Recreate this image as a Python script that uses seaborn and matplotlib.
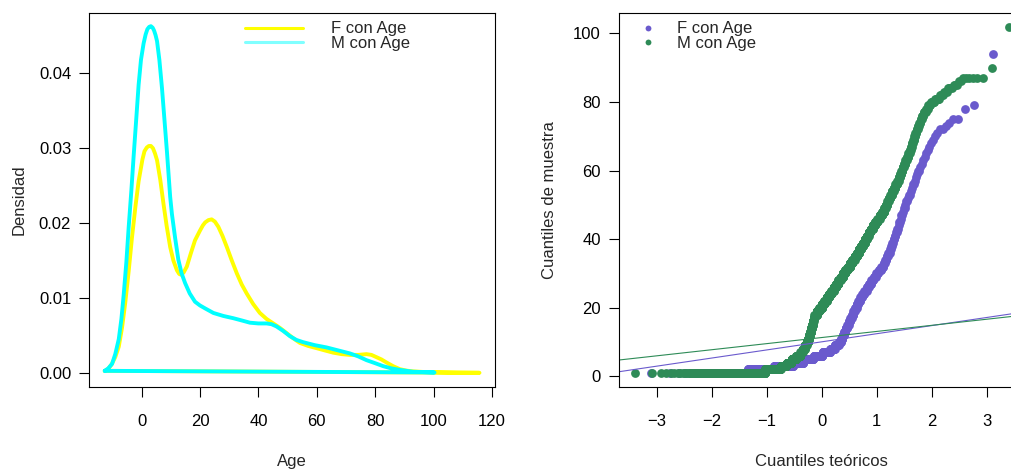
import numpy as np
import pandas as pd
import matplotlib
matplotlib.use("Agg")
import matplotlib.pyplot as plt
from matplotlib.lines import Line2D
import seaborn as sns
from statistics import NormalDist

# ---- Density of Age by group (x: age, y: density) ----
f_kde_age = [-12.6, -11.5, -10.3, -9.0, -7.8, -6.7, -5.6, -4.4, -3.3, -2.1, -1.0, 0.3,
             1.0, 1.8, 2.5, 3.2, 3.9, 4.6, 5.3, 6.4, 7.5, 8.6, 9.8, 10.9, 12.1, 12.9,
             13.6, 14.4, 15.5, 16.9, 18.3, 20.0, 21.0, 21.8, 22.9, 24.0, 25.1, 26.3,
             27.7, 29.2, 30.9, 32.6, 34.3, 36.0, 38.2, 40.5, 42.8, 45.1, 47.4, 49.7,
             52.0, 54.2, 57.0, 59.9, 62.7, 65.6, 68.5, 71.3, 74.2, 77.0, 78.7, 80.4,
             82.1, 83.8, 86.1, 88.4, 90.7, 93.0, 96.5, 100.0, 108.0, 115.7]
f_kde_dens = [0.00027, 0.0005, 0.0011, 0.0021, 0.0035, 0.0060, 0.0093, 0.0136, 0.0180,
              0.0222, 0.0256, 0.0285, 0.0296, 0.0301, 0.0303, 0.0303, 0.0300, 0.0293,
              0.0284, 0.0258, 0.0226, 0.0196, 0.0168, 0.0150, 0.0137, 0.0132, 0.0131,
              0.0134, 0.0142, 0.0160, 0.0177, 0.0190, 0.0197, 0.0201, 0.0204, 0.0205,
              0.0202, 0.0195, 0.0183, 0.0168, 0.0150, 0.0133, 0.0118, 0.0106, 0.0092,
              0.0080, 0.0072, 0.0066, 0.0060, 0.0053, 0.0046, 0.0040, 0.0036, 0.0033,
              0.0030, 0.0027, 0.0025, 0.0024, 0.0024, 0.0025, 0.0024, 0.0021, 0.0018,
              0.0014, 0.0009, 0.0005, 0.0003, 0.0002, 0.00012, 0.00008, 0.00003,
              0.00001]

m_kde_age = [-12.6, -11.4, -10.1, -9.0, -7.8, -6.9, -6.1, -5.2, -4.4, -3.5, -2.7, -1.8,
             -1.0, -0.2, 0.7, 1.4, 2.0, 2.6, 3.2, 3.8, 4.3, 4.8, 5.3, 6.1, 7.0, 7.8,
             8.7, 9.8, 10.4, 11.5, 12.6, 13.7, 14.9, 16.5, 18.3, 20.0, 21.8, 24.6,
             28.0, 31.4, 34.3, 37.1, 40.0, 42.8, 44.5, 46.2, 48.5, 50.8, 53.0, 55.3,
             59.3, 63.3, 67.3, 71.3, 74.2, 77.0, 79.9, 82.7, 85.5, 88.4, 93.0, 100.3]
m_kde_dens = [0.00027, 0.0006, 0.0012, 0.0025, 0.0045, 0.0072, 0.0105, 0.0148, 0.0195,
              0.0243, 0.0290, 0.0340, 0.0385, 0.0418, 0.0440, 0.0452, 0.0459, 0.0462,
              0.0463, 0.0461, 0.0457, 0.0451, 0.0443, 0.0418, 0.0380, 0.0340, 0.0295,
              0.0235, 0.0212, 0.0180, 0.0151, 0.0133, 0.0120, 0.0106, 0.0095, 0.0090,
              0.0086, 0.0080, 0.0076, 0.0073, 0.0070, 0.0067, 0.0066, 0.0066, 0.0065,
              0.0062, 0.0056, 0.0049, 0.0044, 0.0041, 0.0037, 0.0034, 0.0030, 0.0026,
              0.0022, 0.0017, 0.0013, 0.0009, 0.0006, 0.0004, 0.00015, 0.00005]

# ---- Age samples as frequency tables (age value, count) ----
f_ages = [1, 2, 3, 4, 5, 6, 7, 8, 9, 10, 11, 12, 13, 14, 15, 16, 17, 18, 19, 20, 21,
          22, 23, 24, 25, 26, 27, 28, 29, 30, 31, 32, 33, 34, 35, 36, 37, 38, 39, 40,
          41, 42, 43, 44, 45, 46, 47, 48, 49, 50, 51, 52, 53, 54, 55, 56, 57, 58, 59,
          60, 61, 62, 63, 64, 65, 66, 67, 68, 69, 70, 71, 72, 73, 74, 75, 78, 79, 94]
f_counts = [47, 55, 60, 35, 38, 35, 30, 17, 15, 8, 6, 5, 5, 6, 6, 5, 5, 5, 5, 6, 5,
            6, 6, 6, 7, 6, 6, 6, 6, 6, 6, 5, 3, 3, 3, 3, 2, 2, 2, 2,
            2, 2, 2, 1, 2, 1, 2, 1, 2, 1, 2, 1, 2, 1, 1, 2, 1, 1, 1,
            2, 1, 1, 1, 1, 1, 1, 1, 1, 1, 1, 1, 2, 1, 1, 2, 1, 1, 1]

m_ages = list(range(1, 88)) + [90, 102]
m_counts = [227, 113, 50, 45, 45, 42, 22, 22, 20, 14, 12, 11, 10, 9, 9, 9, 9,
            25, 28, 28, 26, 26, 25, 25, 25, 25, 24, 24, 23, 23, 23, 23, 22, 22, 22,
            17, 17, 16, 16, 15, 15, 14, 16, 16, 15, 15, 15, 12, 9,
            8, 8, 8, 8, 8, 8, 8, 6, 5, 5, 5, 5, 5, 5, 5, 5,
            3, 3, 3, 3, 3, 3, 3, 3, 3, 3, 4, 4, 4, 4,
            6, 6, 4, 3, 4, 3, 2, 6, 1, 1]

# Reference lines (intercept, slope) for each group
f_qqline = (10.06, 2.365)
m_qqline = (11.31, 1.778)

labels = ["F con Age", "M con Age"]
dens_colors = ["#FFFF00", "#00FFFF"]
dens_legend_colors = ["#FFFF00", "#80FFFF"]
qq_colors = ["#6A5ACD", "#2E8B57"]

sns.set_style("white")
plt.rcParams["font.family"] = ["Liberation Sans", "DejaVu Sans"]
plt.rcParams["font.size"] = 12


def closed_curve(x, y):
    return pd.DataFrame({"x": list(x) + [x[0]], "y": list(y) + [y[0]]})


def qq_frame(ages, counts):
    sample = np.sort(np.repeat(ages, counts))
    n = len(sample)
    nd = NormalDist()
    theo = [nd.inv_cdf((i - 0.5) / n) for i in range(1, n + 1)]
    return pd.DataFrame({"theo": theo, "sample": sample})


def r_box(ax):
    for s in ax.spines.values():
        s.set_visible(True)
        s.set_color("black")
        s.set_linewidth(0.8)
    ax.tick_params(axis="both", which="major", direction="out", length=7, width=0.8,
                   color="black", labelsize=12, labelcolor="black",
                   bottom=True, left=True)
    ax.tick_params(axis="x", pad=13)
    ax.tick_params(axis="y", pad=6)


fig = plt.figure(figsize=(10.11, 4.70), dpi=100)
fig.patch.set_facecolor("white")

# ---------------- Left panel: density curves ----------------
ax1 = fig.add_axes([0.0883, 0.1772, 0.4010, 0.7958])
df_f = closed_curve(f_kde_age, f_kde_dens)
df_m = closed_curve(m_kde_age, m_kde_dens)
sns.lineplot(data=df_f, x="x", y="y", sort=False, color=dens_colors[0], lw=2.8, ax=ax1,
             estimator=None, solid_joinstyle="round", solid_capstyle="round")
sns.lineplot(data=df_m, x="x", y="y", sort=False, color=dens_colors[1], lw=2.8, ax=ax1,
             estimator=None, solid_joinstyle="round", solid_capstyle="round")
ax1.set_xlim(-17.9, 120.9)
ax1.set_ylim(-0.00185, 0.0481)
ax1.set_xticks([0, 20, 40, 60, 80, 100, 120])
ax1.set_yticks([0.0, 0.01, 0.02, 0.03, 0.04])
ax1.set_yticklabels(["0.00", "0.01", "0.02", "0.03", "0.04"])
r_box(ax1)
ax1.set_xlabel("Age", fontsize=12)
ax1.set_ylabel("Densidad", fontsize=12)
ax1.xaxis.set_label_coords(0.5, -0.2005)
ax1.xaxis.label.set_va("center")
ax1.yaxis.set_label_coords(-0.1734, 0.5)
ax1.yaxis.label.set_va("center")

dens_handles = [Line2D([], [], color=c, lw=2.2) for c in dens_legend_colors]
ax1.legend(dens_handles, labels, loc="upper left", frameon=False,
           bbox_to_anchor=(245 / 1011, 1 - 21.5 / 470), bbox_transform=fig.transFigure,
           borderpad=0, borderaxespad=0, handlelength=3.47, handletextpad=1.68,
           labelspacing=-0.05, fontsize=12)

# ---------------- Right panel: normal QQ plot ----------------
ax2 = fig.add_axes([0.6123, 0.1772, 0.4013, 0.7958])
qq_f = qq_frame(f_ages, f_counts)
qq_m = qq_frame(m_ages, m_counts)
sns.scatterplot(data=qq_f, x="theo", y="sample", color=qq_colors[0], s=40,
                linewidth=0, ax=ax2)
ax2.axline((0, f_qqline[0]), slope=f_qqline[1], color=qq_colors[0], lw=0.8)
sns.scatterplot(data=qq_m, x="theo", y="sample", color=qq_colors[1], s=40,
                linewidth=0, ax=ax2)
ax2.axline((0, m_qqline[0]), slope=m_qqline[1], color=qq_colors[1], lw=0.8)
ax2.set_xlim(-3.69, 3.69)
ax2.set_ylim(-3.04, 106.04)
ax2.set_xticks([-3, -2, -1, 0, 1, 2, 3])
ax2.set_yticks([0, 20, 40, 60, 80, 100])
r_box(ax2)
ax2.set_xlabel("Cuantiles teóricos", fontsize=12)
ax2.set_ylabel("Cuantiles de muestra", fontsize=12)
ax2.xaxis.set_label_coords(0.4997, -0.2005)
ax2.xaxis.label.set_va("center")
ax2.yaxis.set_label_coords(-0.1725, 0.5)
ax2.yaxis.label.set_va("center")

qq_handles = [Line2D([], [], color=c, marker="o", ls="", markersize=4.2,
                     markeredgewidth=0) for c in qq_colors]
ax2.legend(qq_handles, labels, loc="upper left", frameon=False,
           bbox_to_anchor=(639.3 / 1011, 1 - 21.5 / 470), bbox_transform=fig.transFigure,
           borderpad=0, borderaxespad=0, handlelength=1.0, handletextpad=1.24,
           labelspacing=-0.05, fontsize=12)

fig.savefig("out.png", dpi=100, facecolor="white")
